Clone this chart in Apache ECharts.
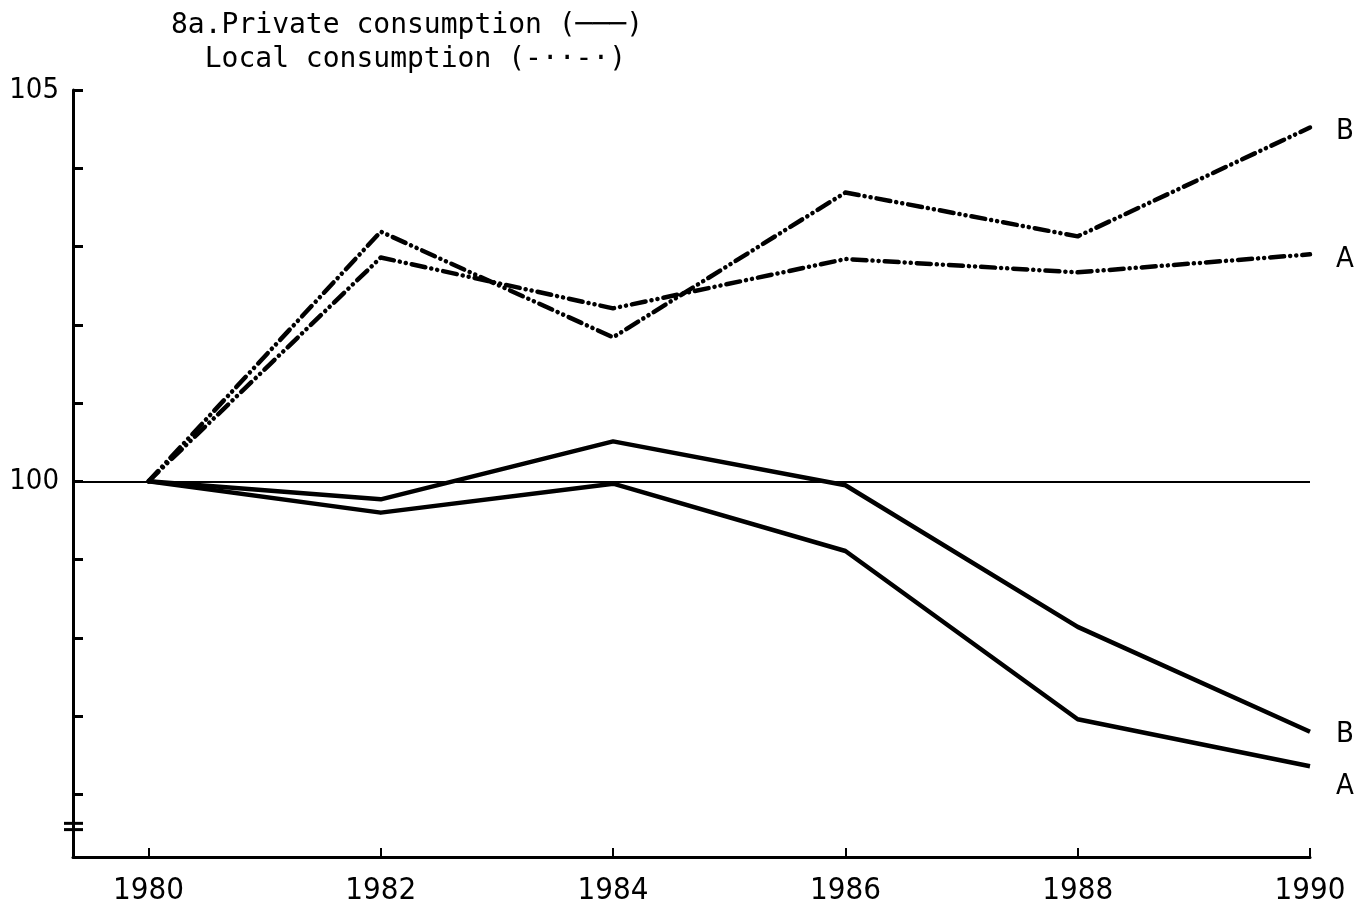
<!DOCTYPE html>
<html>
<head>
<meta charset="utf-8">
<script src="https://cdn.jsdelivr.net/npm/echarts@6/dist/echarts.min.js"></script>
<style>
  html, body { margin: 0; padding: 0; background: #fff; }
  #chart { width: 1358px; height: 915px; }
</style>
</head>
<body>
<div id="chart"></div>
<script>
// ---- data ----
const years = [1980, 1982, 1984, 1986, 1988, 1990];
const localA = [100, 102.86, 102.21, 102.84, 102.67, 102.90];
const localB = [100, 103.19, 101.84, 103.69, 103.13, 104.52];
const privateA = [100, 99.60, 99.97, 99.11, 96.96, 96.36];
const privateB = [100, 99.77, 100.51, 99.95, 98.14, 96.80];
const xTicks = [1980, 1982, 1984, 1986, 1988, 1990];
const yTicks = [96, 97, 98, 99, 100, 101, 102, 103, 104, 105];
const yLabels = [100, 105];
const titleLines = ['8a.Private consumption (───)', '  Local consumption (-··-·)'];

const pairs = arr => years.map((y, i) => [y, arr[i]]);
const font = '"DejaVu Sans Condensed", "Liberation Sans Narrow", "DejaVu Sans", sans-serif';
const mono = '"DejaVu Sans Mono", "Liberation Mono", monospace';

const dashDot = [14, 6, 0.1, 6, 0.1, 6];

function lineSeries(name, data, solid, lbl, off) {
  return {
    name: name,
    type: 'line',
    data: pairs(data),
    symbol: 'none',
    lineStyle: {
      color: '#000',
      width: solid ? 4.5 : 4.5,
      type: solid ? 'solid' : dashDot,
      cap: solid ? 'butt' : 'round',
      join: 'round'
    },
    endLabel: {
      show: true,
      formatter: lbl,
      color: '#000',
      fontSize: 29,
      fontFamily: font,
      offset: off
    },
    emphasis: { disabled: true },
    animation: false
  };
}

const chart = echarts.init(document.getElementById('chart'), null, { renderer: 'canvas' });
const option = {
  backgroundColor: '#fff',
  animation: false,
  title: {
    text: titleLines.join('\n'),
    left: 166,
    top: 4,
    textStyle: {
      fontFamily: mono,
      fontSize: 28,
      fontWeight: 'normal',
      color: '#000',
      lineHeight: 34
    }
  },
  grid: { left: 73, right: 48, top: 90, bottom: 58, containLabel: false },
  xAxis: {
    type: 'value',
    min: 1979.35,
    max: 1990,
    splitLine: { show: false },
    axisLine: { lineStyle: { color: '#000', width: 3 } },
    axisTick: { inside: true, length: 9, lineStyle: { color: '#000', width: 2 }, customValues: xTicks },
    axisLabel: {
      customValues: xTicks,
      formatter: v => String(v),
      color: '#000',
      fontSize: 31,
      fontFamily: font,
      margin: 18
    }
  },
  yAxis: {
    type: 'value',
    min: 95.2,
    max: 105,
    splitLine: { show: false },
    axisLine: { lineStyle: { color: '#000', width: 3 } },
    axisTick: { inside: true, length: 10, lineStyle: { color: '#000', width: 3 }, customValues: yTicks },
    axisLabel: {
      customValues: yLabels,
      formatter: v => String(v),
      color: '#000',
      fontSize: 29,
      fontFamily: font,
      margin: 14
    }
  },
  series: [
    lineSeries('Local consumption B', localB, false, 'B', [18, 4]),
    lineSeries('Local consumption A', localA, false, 'A', [18, 5]),
    lineSeries('Private consumption B', privateB, true, 'B', [18, 3]),
    lineSeries('Private consumption A', privateA, true, 'A', [18, 20]),
    {
      type: 'line',
      data: [],
      markLine: {
        silent: true,
        symbol: 'none',
        label: { show: false },
        lineStyle: { color: '#000', width: 2, type: 'solid' },
        data: [{ yAxis: 100 }]
      }
    }
  ]
};
chart.setOption(option);

// axis break symbol on the y axis (placed through the chart's own scale)
const p1 = chart.convertToPixel({ gridIndex: 0 }, [1979.35, 95.63]);
const p2 = chart.convertToPixel({ gridIndex: 0 }, [1979.35, 95.55]);
chart.setOption({
  graphic: [
    { type: 'line', shape: { x1: p1[0] - 9, y1: p1[1], x2: p1[0] + 10, y2: p1[1] }, style: { stroke: '#000', lineWidth: 3 } },
    { type: 'line', shape: { x1: p2[0] - 9, y1: p2[1], x2: p2[0] + 10, y2: p2[1] }, style: { stroke: '#000', lineWidth: 3 } }
  ]
});
</script>
</body>
</html>
